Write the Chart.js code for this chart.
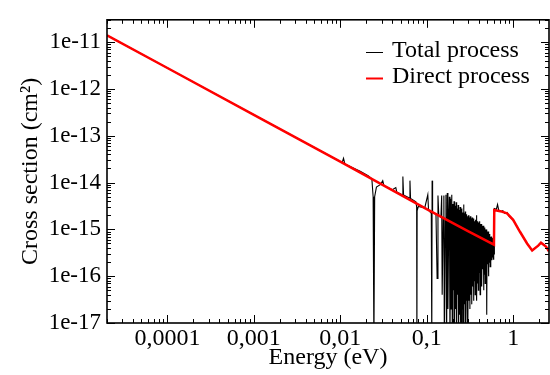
<!DOCTYPE html>
<html>
<head>
<meta charset="utf-8">
<script src="https://cdn.jsdelivr.net/npm/chart.js@4.4.1/dist/chart.umd.min.js"></script>
<style>
  html, body { margin: 0; padding: 0; background: #fff; }
  #wrap { width: 550px; height: 375px; position: relative; }
</style>
</head>
<body>
<div id="wrap"><canvas id="chart"></canvas></div>
<script>
// Direct process (smooth background), energy in eV, cross section in cm^2
const directEnergy = [2e-5, 1e-4, 1e-3, 0.01, 0.1, 0.3, 0.6, 0.605, 0.71, 0.85, 1.0, 1.2, 1.45, 1.66, 1.95, 2.1, 2.4, 2.6];
const directSigma  = [1.4e-11, 2.8e-12, 2.8e-13, 2.8e-14, 2.7e-15, 9.2e-16, 4.7e-16, 2.6e-15, 2.45e-15, 2.2e-15, 1.6e-15, 8.9e-16, 5.0e-16, 3.55e-16, 4.5e-16, 5.2e-16, 4.3e-16, 3.4e-16];

// Total process: smooth part below the first resonance
const totalLow = [
  [2e-5, 1.4e-11], [1e-4, 2.8e-12], [1e-3, 2.8e-13], [0.0105, 2.67e-14], [0.0109, 3.3e-14],
  [0.0113, 2.5e-14], [0.017, 1.75e-14], [0.021, 1.4e-14], [0.0232, 1.2e-14], [0.0240, 5e-15]
];
// isolated resonances 0.024 - 0.18 eV
const totalMid = [
  [0.0245, 3e-18], [0.0250, 5e-15], [0.0262, 8e-15], [0.029, 9e-15], [0.031, 1.1e-14],
  [0.032, 8.6e-15], [0.040, 7e-15], [0.0439, 7.8e-15], [0.045, 6.3e-15], [0.052, 5.5e-15],
  [0.053, 1.35e-14], [0.054, 5.4e-15], [0.063, 4.7e-15], [0.064, 1.1e-14], [0.065, 4.6e-15],
  [0.075, 3.9e-15], [0.0765, 3e-15], [0.077, 3e-18], [0.0775, 2.5e-15], [0.080, 3.1e-15],
  [0.095, 2.9e-15], [0.103, 5.5e-15], [0.105, 2.6e-15], [0.113, 2.2e-15], [0.1145, 3e-18],
  [0.1155, 1.1e-14], [0.117, 2.3e-15], [0.128, 2.1e-15], [0.132, 9e-17], [0.135, 5.3e-15],
  [0.138, 2e-15], [0.146, 1.8e-15], [0.149, 5.3e-15], [0.151, 4e-17], [0.155, 1.8e-15],
  [0.158, 5.3e-15], [0.160, 3e-18], [0.164, 1.7e-15], [0.167, 5.5e-15], [0.170, 3e-18],
  [0.173, 6e-15], [0.176, 2e-17]
];
// dense resonance forest 0.18 - 0.6 eV
const totalForest = [
  [0.180, 1.6e-15], [0.183, 5e-15], [0.186, 3e-18], [0.189, 4.5e-15], [0.192, 2e-17],
  [0.195, 5.5e-15], [0.198, 3e-18], [0.201, 3.5e-15], [0.204, 5e-17], [0.207, 4e-15],
  [0.210, 3e-18], [0.213, 3.2e-15], [0.216, 2e-17], [0.219, 3.8e-15], [0.222, 3e-18],
  [0.225, 2.8e-15], [0.228, 4e-17], [0.231, 3.3e-15], [0.234, 3e-18], [0.237, 2.6e-15],
  [0.240, 1.5e-17], [0.243, 3e-15], [0.246, 3e-18], [0.249, 2.5e-15], [0.252, 3e-18],
  [0.255, 2.8e-15], [0.258, 2e-17], [0.261, 2.3e-15], [0.264, 3e-18], [0.267, 3.4e-15],
  [0.270, 3e-18], [0.273, 2.2e-15], [0.276, 2.5e-17], [0.279, 2.4e-15], [0.282, 3e-18],
  [0.285, 2e-15], [0.288, 3e-17], [0.291, 2.1e-15], [0.294, 2e-17], [0.297, 1.9e-15],
  [0.300, 3e-18], [0.304, 2e-15], [0.308, 3e-17], [0.312, 1.8e-15], [0.316, 2e-17],
  [0.320, 1.9e-15], [0.324, 4e-17], [0.328, 1.7e-15], [0.332, 2.5e-17], [0.336, 1.8e-15],
  [0.340, 6e-17], [0.344, 1.6e-15], [0.348, 3e-17], [0.352, 1.7e-15], [0.356, 8e-17],
  [0.360, 1.5e-15], [0.364, 4e-17], [0.368, 1.6e-15], [0.372, 1e-16], [0.376, 2e-15],
  [0.380, 3e-17], [0.384, 1.5e-15], [0.388, 7e-17], [0.392, 1.4e-15], [0.396, 5e-17],
  [0.400, 1.4e-15], [0.405, 1.2e-16], [0.410, 1.5e-15], [0.415, 4e-17], [0.420, 1.3e-15],
  [0.425, 9e-17], [0.430, 1.3e-15], [0.435, 6e-17], [0.440, 1.2e-15], [0.445, 1.4e-16],
  [0.450, 1.2e-15], [0.455, 5e-17], [0.460, 1.1e-15], [0.465, 1.1e-16], [0.470, 1.1e-15],
  [0.475, 7e-17], [0.480, 1e-15], [0.485, 1.3e-16], [0.490, 1e-15], [0.495, 1.5e-17],
  [0.500, 9e-16], [0.506, 1.8e-16], [0.512, 9e-16], [0.518, 1e-16], [0.524, 8e-16],
  [0.530, 2e-16], [0.536, 8e-16], [0.542, 1.6e-16], [0.548, 7e-16], [0.554, 2.5e-16],
  [0.560, 7e-16], [0.566, 2.2e-16], [0.572, 6.5e-16], [0.578, 2.5e-16], [0.584, 6e-16],
  [0.590, 2.3e-16], [0.596, 5.5e-16], [0.602, 3e-16]
];
// above the threshold at 0.6 eV
const totalHigh = [
  [0.607, 2.8e-15], [0.64, 2.7e-15], [0.66, 3.4e-15], [0.68, 2.6e-15], [0.72, 2.4e-15],
  [0.76, 2.5e-15], [0.80, 2.2e-15], [0.85, 2.3e-15], [0.90, 1.9e-15], [1.0, 1.6e-15],
  [1.2, 8.9e-16], [1.45, 5.0e-16], [1.66, 3.55e-16], [1.95, 4.5e-16], [2.1, 5.2e-16],
  [2.4, 4.3e-16], [2.6, 3.4e-16]
];

const xTickValues = [1e-4, 1e-3, 1e-2, 1e-1, 1];
const xTickLabels = ['0,0001', '0,001', '0,01', '0,1', '1'];
const yTickValues = [1e-17, 1e-16, 1e-15, 1e-14, 1e-13, 1e-12, 1e-11];
const yTickLabels = ['1e-17', '1e-16', '1e-15', '1e-14', '1e-13', '1e-12', '1e-11'];

const serif = '"Times New Roman", "Liberation Serif", Tinos, serif';

const totalPoints = totalLow.concat(totalMid, totalForest, totalHigh).map(p => ({ x: p[0], y: p[1] }));
const directPoints = directEnergy.map((x, i) => ({ x: x, y: directSigma[i] }));

// frame with inward major/minor ticks on all four sides
const frameTicks = {
  id: 'frameTicks',
  afterDatasetsDraw(chart) {
    const { ctx, chartArea: a, scales } = chart;
    ctx.save();
    ctx.strokeStyle = '#000';
    ctx.lineWidth = 1;
    const drawFor = (scale, horizontal) => {
      const lo = Math.floor(Math.log10(scale.min));
      const hi = Math.ceil(Math.log10(scale.max));
      for (let d = lo; d <= hi; d++) {
        for (let m = 1; m <= 9; m++) {
          const v = m * Math.pow(10, d);
          if (v < scale.min || v > scale.max) continue;
          const len = m === 1 ? 8 : 4;
          const p = Math.round(scale.getPixelForValue(v)) + 0.5;
          ctx.beginPath();
          if (horizontal) {
            ctx.moveTo(p, a.bottom); ctx.lineTo(p, a.bottom - len);
            ctx.moveTo(p, a.top); ctx.lineTo(p, a.top + len);
          } else {
            ctx.moveTo(a.left, p); ctx.lineTo(a.left + len, p);
            ctx.moveTo(a.right, p); ctx.lineTo(a.right - len, p);
          }
          ctx.stroke();
        }
      }
    };
    drawFor(scales.x, true);
    drawFor(scales.y, false);
    ctx.lineWidth = 1.6;
    ctx.strokeRect(a.left, a.top, a.right - a.left, a.bottom - a.top);
    ctx.restore();
  }
};

// legend inside the plot, top right
const insideLegend = {
  id: 'insideLegend',
  afterDraw(chart) {
    const { ctx } = chart;
    ctx.save();
    ctx.font = '24px ' + serif;
    ctx.textBaseline = 'alphabetic';
    chart.data.datasets.forEach((ds, i) => {
      const y = 52 + i * 26;
      ctx.strokeStyle = ds.borderColor;
      ctx.lineWidth = i === 0 ? 1 : 2;
      ctx.beginPath();
      ctx.moveTo(366, y + 0.5); ctx.lineTo(383, y + 0.5);
      ctx.stroke();
      ctx.fillStyle = '#000';
      ctx.fillText(ds.label, 392, y + 5);
    });
    ctx.restore();
  }
};

new Chart(document.getElementById('chart'), {
  type: 'line',
  data: {
    datasets: [
      {
        label: 'Total process',
        data: totalPoints,
        borderColor: '#000000',
        borderWidth: 1.1,
        pointRadius: 0,
        tension: 0,
        order: 2
      },
      {
        label: 'Direct process',
        data: directPoints,
        borderColor: '#ff0000',
        borderWidth: 2.5,
        pointRadius: 0,
        tension: 0,
        order: 1
      }
    ]
  },
  options: {
    responsive: true,
    maintainAspectRatio: false,
    animation: false,
    layout: { padding: { left: 0, right: 1, top: 14, bottom: 0 } },
    plugins: {
      legend: { display: false },
      tooltip: { enabled: false }
    },
    scales: {
      x: {
        type: 'logarithmic',
        min: 2e-5,
        max: 2.6,
        grid: { display: false, drawTicks: false },
        border: { display: false },
        afterBuildTicks: (scale) => { scale.ticks = xTickValues.map(v => ({ value: v })); },
        afterFit: (scale) => { scale.height = 52; },
        ticks: {
          autoSkip: false,
          maxRotation: 0,
          padding: 1,
          color: '#000',
          font: { family: serif, size: 24 },
          callback: (v) => xTickLabels[xTickValues.indexOf(v)]
        },
        title: {
          display: true,
          text: 'Energy (eV)',
          color: '#000',
          font: { family: serif, size: 24 },
          padding: { top: 0, bottom: 3 }
        }
      },
      y: {
        type: 'logarithmic',
        min: 1e-17,
        max: 3e-11,
        grid: { display: false, drawTicks: false },
        border: { display: false },
        afterBuildTicks: (scale) => { scale.ticks = yTickValues.map(v => ({ value: v })); },
        afterFit: (scale) => { scale.width = 107; },
        ticks: {
          autoSkip: false,
          padding: 6,
          color: '#000',
          font: { family: serif, size: 23 },
          callback: (v) => yTickLabels[yTickValues.indexOf(v)]
        },
        title: {
          display: true,
          text: 'Cross section (cm²)',
          color: '#000',
          font: { family: serif, size: 24 },
          padding: { top: 16, bottom: 0 }
        }
      }
    }
  },
  plugins: [frameTicks, insideLegend]
});
</script>
</body>
</html>
